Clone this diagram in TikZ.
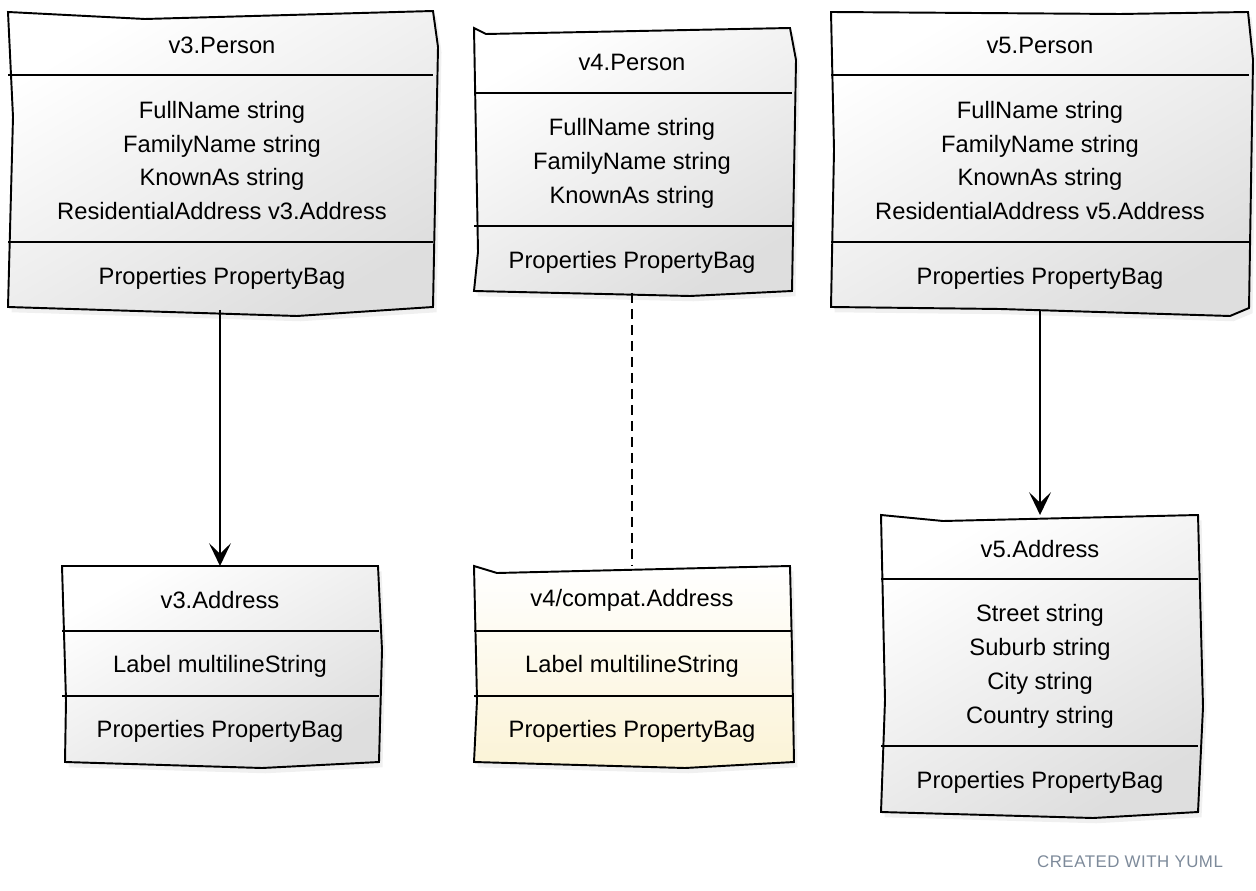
\documentclass[tikz,border=0pt]{standalone}
\usepackage{fontspec}
\setmainfont{Liberation Sans}
\usetikzlibrary{arrows.meta,shadows}
\definecolor{compatyellow}{HTML}{FBF3D6}
\definecolor{yumlgray}{HTML}{7D8A9A}

\begin{document}
\begin{tikzpicture}[x = 0.02cm, y = -0.02cm, line width = 1.1pt,
    every node/.style = {font = \fontsize{13.5}{19.3}\selectfont, align = center, inner sep = 0pt},
    classbox/.style = {draw, top color = white, bottom color = black!13, shading angle = 30,
        drop shadow = {opacity = 0.12, shadow xshift = 2pt, shadow yshift = -3pt}},
    compatbox/.style = {classbox, bottom color = compatyellow},
    assoc/.style = {line width = 1pt, -{Stealth[length = 13pt, width = 12.5pt, inset = 6pt]}},
    depends/.style = {line width = 1.1pt, dash pattern = on 5.7pt off 3.4pt}]
\useasboundingbox (0,0) rectangle (1256,891);

\draw[classbox] (8,12) -- (145,19) -- (433,11) -- (438,47) -- (433,307) -- (297,316) -- (8,307) -- (13,117) -- cycle;
\draw (8,75) -- (433,75) (8,242) -- (433,242);
\draw (222,45) node (v3p-name) {v3.Person}
    (222,160.5) node (v3p-fields) {FullName string\\FamilyName string\\KnownAs string\\ResidentialAddress v3.Address}
    (222,278) node (v3p-props) {Properties PropertyBag};
\coordinate (v3p-bot) at (220,310);

\draw[classbox] (474,28) -- (486,34) -- (790,28) -- (796,60) -- (792,291) -- (690,296) -- (474,291) -- (478,252) -- cycle;
\draw (474,93) -- (792,93) (474,226) -- (792,226);
\draw (632,62) node (v4p-name) {v4.Person}
    (632,163) node (v4p-fields) {FullName string\\FamilyName string\\KnownAs string}
    (632,262) node (v4p-props) {Properties PropertyBag};
\coordinate (v4p-bot) at (632,293);

\draw[classbox] (831,12) -- (1120,14) -- (1248,12) -- (1253,60) -- (1249,308) -- (1230,316) -- (1000,309) -- (831,307) -- (834,150) -- cycle;
\draw (831,75) -- (1249,75) (831,242) -- (1249,242);
\draw (1040,45) node (v5p-name) {v5.Person}
    (1040,160.5) node (v5p-fields) {FullName string\\FamilyName string\\KnownAs string\\ResidentialAddress v5.Address}
    (1040,278) node (v5p-props) {Properties PropertyBag};
\coordinate (v5p-bot) at (1040,310);

\draw[classbox] (62,566) -- (378,566) -- (382,650) -- (379,762) -- (262,768) -- (65,762) -- (66,700) -- cycle;
\draw (62,631) -- (379,631) (62,696) -- (379,696);
\draw (220,600) node (v3a-name) {v3.Address}
    (220,666) node (v3a-fields) {Label multilineString}
    (220,731) node (v3a-props) {Properties PropertyBag};
\coordinate (v3a-top) at (220,566);

\draw[compatbox] (474,566) -- (497,573) -- (790,566) -- (792,650) -- (794,762) -- (685,768) -- (474,762) -- (477,700) -- cycle;
\draw (474,631) -- (792,631) (474,696) -- (792,696);
\draw (632,600) node (v4a-name) {v4/compat.Address}
    (632,666) node (v4a-fields) {Label multilineString}
    (632,731) node (v4a-props) {Properties PropertyBag};
\coordinate (v4a-top) at (632,566);

\draw[classbox] (881,515) -- (943,521) -- (1198,515) -- (1203,707) -- (1198,812) -- (1093,818) -- (881,812) -- (885,700) -- cycle;
\draw (881,579) -- (1198,579) (881,746) -- (1198,746);
\draw (1040,549) node (v5a-name) {v5.Address}
    (1040,666) node (v5a-fields) {Street string\\Suburb string\\City string\\Country string}
    (1040,782) node (v5a-props) {Properties PropertyBag};
\coordinate (v5a-top) at (1040,515);

\draw[assoc] (v3p-bot) -- (v3a-top);
\draw[depends] (v4p-bot) -- (v4a-top);
\draw[assoc] (v5p-bot) -- (v5a-top);

\node[font = \fontsize{9.6}{11}\selectfont\addfontfeature{LetterSpace = 3}, text = yumlgray] (yuml) at (1130,862) {CREATED WITH YUML};
\end{tikzpicture}
\end{document}
